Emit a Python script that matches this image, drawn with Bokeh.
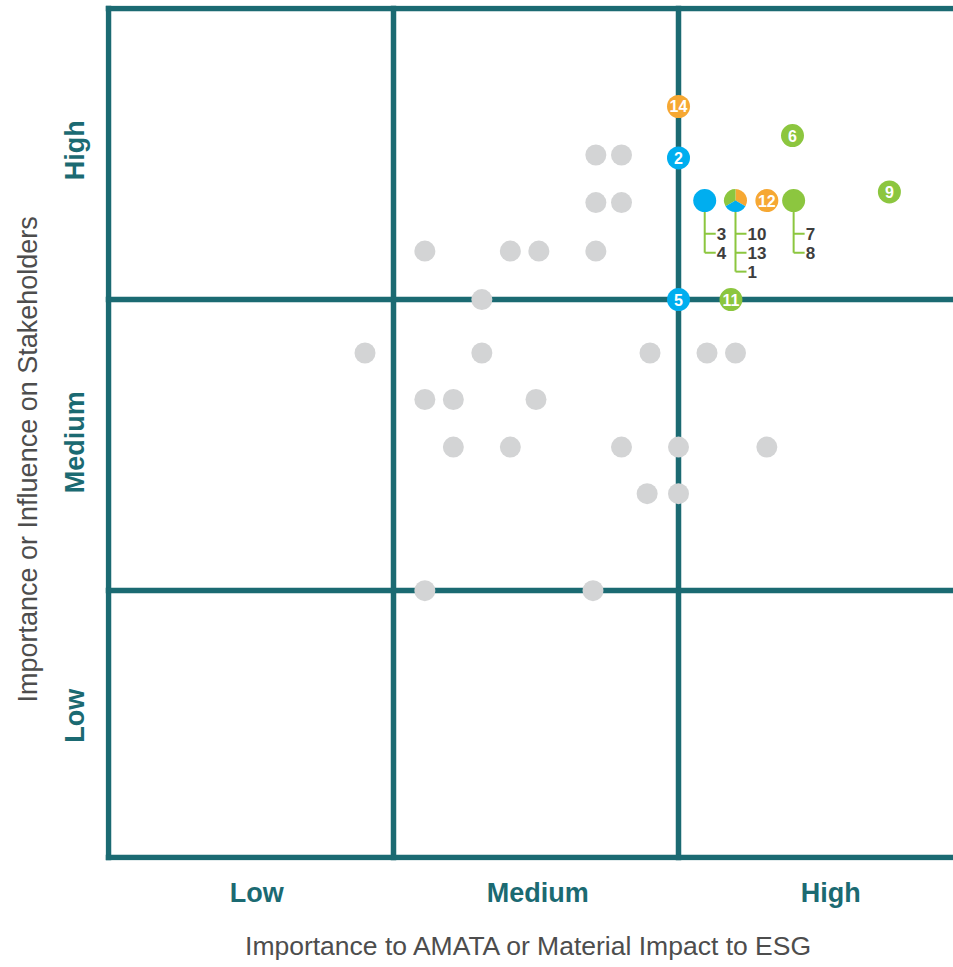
import math
from bokeh.plotting import figure
from bokeh.models import FixedTicker, Title, ColumnDataSource
from bokeh.core.properties import value
from bokeh.embed import file_html
from bokeh.resources import INLINE

# ---------------- data ----------------
gray_x = [4.5, 5.55, 6.55, 6.55, 5.55, 6.05, 7.5, 6.05, 7.05, 7.05, 7.55, 8.55, 9.0, 8.55,
          9.0, 8.55, 9.5, 10.5, 11.0, 9.0, 10.0, 11.55, 9.45, 10.0, 5.55, 8.5]
gray_y = [5.45, 6.5, 6.0, 5.45, 4.97, 4.97, 4.97, 4.48, 4.48, 6.5, 6.5, 7.49, 7.49, 7.0,
          7.0, 6.5, 5.45, 5.45, 5.45, 4.48, 4.48, 4.48, 4.0, 4.0, 3.0, 3.0]

num_labels = ["14", "2", "6", "9", "12", "5", "11"]
num_x = [10.0, 10.0, 12.0, 13.7, 11.55, 10.0, 10.92]
num_y = [7.99, 7.46, 7.69, 7.11, 7.02, 6.0, 6.0]
num_cat = ["orange", "blue", "green", "green", "orange", "blue", "green"]

group_x = [10.46, 11.0, 12.02]
group_y = [7.02, 7.02, 7.02]
group_cat = ["blue", "pie", "green"]
group_labels = [["3", "4"], ["10", "13", "1"], ["7", "8"]]

pie_cat = ["orange", "green", "blue"]
pie_start_deg = [-30, 90, 210]
pie_end_deg = [90, 210, 330]

x_ticks = [2.6, 7.53, 12.67]
x_tick_labels = ["Low", "Medium", "High"]
y_ticks = [1.71, 4.53, 7.54]
y_tick_labels = ["Low", "Medium", "High"]
x_lines = [0, 5, 10]
y_lines = [0.25, 3, 6, 9]

x_title = "Importance to AMATA or Material Impact to ESG"
y_title = "Importance or Influence on Stakeholders"

# ---------------- style ----------------
TEAL = "#1b6a72"
COLORS = {"orange": "#f6a833", "blue": "#00aeef", "green": "#8cc63f"}
GRAY = "#d3d4d5"
FONT = "Liberation Sans"

PX_X = 57.0   # pixels per x unit
PX_Y = 97.0   # pixels per y unit

p = figure(width=953, height=967, frame_width=848, frame_height=855,
           x_range=(-3 / PX_X, 845 / PX_X), y_range=(0.25 - 3 / PX_Y, 9 + 3 / PX_Y),
           output_backend="svg", toolbar_location=None,
           min_border_left=105, min_border_right=0, min_border_top=5, min_border_bottom=107)
p.outline_line_color = None
p.background_fill_color = "white"

for g, ticks in ((p.xgrid, x_lines), (p.ygrid, y_lines)):
    g.ticker = FixedTicker(ticks=ticks)
    g.grid_line_color = TEAL
    g.grid_line_width = 5.5

# axes
for ax in (p.xaxis, p.yaxis):
    ax.axis_line_color = None
    ax.major_tick_line_color = None
    ax.minor_tick_line_color = None
    ax.major_label_text_font = FONT
    ax.major_label_text_font_style = "bold"
    ax.major_label_text_font_size = "27px"
    ax.major_label_text_color = TEAL

p.xaxis.ticker = FixedTicker(ticks=x_ticks)
p.xaxis.major_label_overrides = {t: l for t, l in zip(x_ticks, x_tick_labels)}
p.xaxis.major_label_standoff = 11
p.xaxis.axis_label = x_title
p.xaxis.axis_label_text_font = FONT
p.xaxis.axis_label_text_font_style = "normal"
p.xaxis.axis_label_text_font_size = "26.5px"
p.xaxis.axis_label_text_color = "#4d4d4d"
p.xaxis.axis_label_standoff = 20

p.yaxis.ticker = FixedTicker(ticks=y_ticks)
p.yaxis.major_label_overrides = {t: l for t, l in zip(y_ticks, y_tick_labels)}
p.yaxis.major_label_orientation = "vertical"
p.yaxis.major_label_standoff = 9

p.add_layout(Title(text=y_title, align="left", offset=158, standoff=25,
                   vertical_align="top",
                   text_font=FONT, text_font_size="27px", text_font_style="normal",
                   text_color="#4d4d4d"), "left")

# gray dots
p.scatter(gray_x, gray_y, size=21, fill_color=GRAY, line_color=None)

# leader lines for grouped circles
vx0, vy0, vx1, vy1 = [], [], [], []
hx0, hy0, hx1, hy1 = [], [], [], []
tx, ty, tt = [], [], []
for gx, gy, labs in zip(group_x, group_y, group_labels):
    rows = [gy - (33 + 19 * i) / PX_Y for i in range(len(labs))]
    vx0.append(gx); vy0.append(gy); vx1.append(gx); vy1.append(rows[-1])
    for ry, lab in zip(rows, labs):
        hx0.append(gx); hy0.append(ry); hx1.append(gx + 11 / PX_X); hy1.append(ry)
        tx.append(gx + 12 / PX_X); ty.append(ry); tt.append(lab)
p.segment(vx0, vy0, vx1, vy1, line_color=COLORS["green"], line_width=2)
p.segment(hx0, hy0, hx1, hy1, line_color=COLORS["green"], line_width=2)
p.text(tx, ty, text=tt, text_font=value(FONT), text_font_style="bold",
       text_font_size="17px", text_color="#3d3d3d", text_align="left",
       text_baseline="middle")

# grouped circles (plain and pie)
plain = [(x, y, c) for x, y, c in zip(group_x, group_y, group_cat) if c != "pie"]
p.scatter([a[0] for a in plain], [a[1] for a in plain], size=23,
          fill_color=[COLORS[a[2]] for a in plain], line_color=None)
for x, y, c in zip(group_x, group_y, group_cat):
    if c == "pie":
        src = ColumnDataSource(dict(
            x=[x] * len(pie_cat), y=[y] * len(pie_cat),
            s=[math.radians(a) for a in pie_start_deg],
            e=[math.radians(a) for a in pie_end_deg],
            c=[COLORS[k] for k in pie_cat]))
        p.wedge(x="x", y="y", radius=11.5, radius_units="screen", start_angle="s",
                end_angle="e", fill_color="c", line_color=None, source=src)

# numbered circles
p.scatter(num_x, num_y, size=23, fill_color=[COLORS[c] for c in num_cat], line_color=None)
p.text(num_x, num_y, text=num_labels, text_font=value(FONT), text_font_style="bold",
       text_font_size="16px", text_color="white", text_align="center",
       text_baseline="middle")

open("out.html", "w").write(file_html(p, INLINE))
